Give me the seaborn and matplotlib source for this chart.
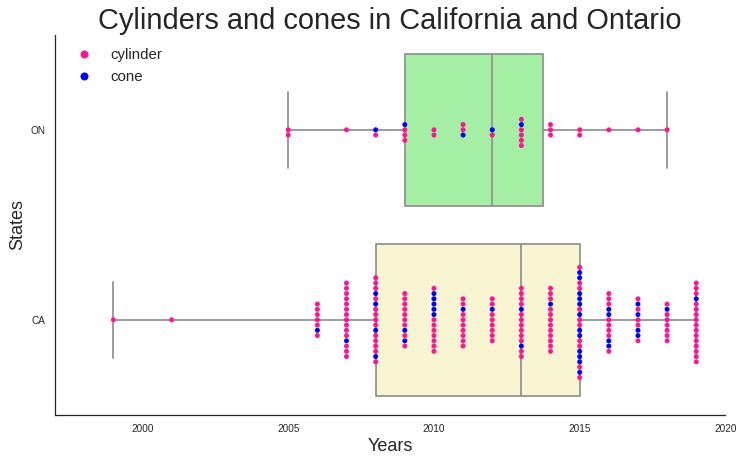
import numpy as np
import pandas as pd
import seaborn as sns
import matplotlib
matplotlib.use("Agg")
import matplotlib.pyplot as plt

# Sightings per year (California)
ca_years = [1999, 2001, 2006, 2007, 2008, 2009, 2010, 2011, 2012, 2013, 2014, 2015, 2016, 2017, 2018, 2019]
ca_cylinder = [1, 1, 6, 14, 13, 9, 8, 9, 8, 12, 12, 10, 8, 5, 7, 15]
ca_cone = [0, 0, 1, 1, 4, 2, 5, 1, 1, 2, 1, 12, 4, 4, 1, 1]

# Ontario
on_years = [2005, 2007, 2008, 2009, 2010, 2011, 2012, 2013, 2014, 2015, 2016, 2017, 2018]
on_cylinder = [2, 1, 1, 3, 2, 2, 1, 5, 3, 2, 1, 1, 1]
on_cone = [0, 0, 1, 1, 0, 1, 1, 1, 0, 0, 0, 0, 0]

# Box summaries (all shapes): min, Q1, median, Q3, max
ca_box = [1999, 2008, 2013, 2015, 2019]
on_box = [2005, 2009, 2012, 2013.75, 2018]

states = ["ON", "CA"]
shapes = ["cylinder", "cone"]
box_colors = ["palegreen", "lemonchiffon"]
shape_colors = {"cylinder": "deeppink", "cone": "blue"}


def build(state, years, cyl, cone):
    # spread the cones through each year's cylinders so colours mix in the swarm
    rows = []
    for y, c1, c2 in zip(years, cyl, cone):
        n = c1 + c2
        cone_idx = set(np.linspace(0, n - 1, c2 + 2)[1:-1].round().astype(int)) if c2 else set()
        if c2 and len(cone_idx) < c2:
            cone_idx = set(range(c2))
        for i in range(n):
            rows.append((state, y, "cone" if i in cone_idx else "cylinder"))
    return rows


swarm_df = pd.DataFrame(build("ON", on_years, on_cylinder, on_cone)
                        + build("CA", ca_years, ca_cylinder, ca_cone),
                        columns=["state", "year", "shape"])

box_df = pd.DataFrame({
    "state": ["ON"] * len(on_box) + ["CA"] * len(ca_box),
    "year": on_box + ca_box,
})

sns.set_theme(style="white")
plt.rcParams["font.family"] = ["Liberation Sans", "DejaVu Sans"]

fig, ax = plt.subplots(figsize=(744 / 72, 464 / 72), dpi=72)
fig.subplots_adjust(left=0.074, right=0.975, top=0.925, bottom=0.106)

sns.boxplot(data=box_df, x="year", y="state", order=states, hue="state",
            hue_order=states, palette=box_colors, whis=(0, 100), width=0.8,
            linewidth=1.8, linecolor="#939393", legend=False, ax=ax)
sns.swarmplot(data=swarm_df, x="year", y="state", order=states, hue="shape",
              hue_order=shapes, palette=shape_colors, size=5, ax=ax)

ax.set_xlim(1997, 2020)
ax.set_xticks([2000, 2005, 2010, 2015, 2020])
ax.tick_params(axis="both", labelsize=10)
ax.set_title("Cylinders and cones in California and Ontario", fontsize=29)
ax.set_xlabel("Years", fontsize=18)
ax.set_ylabel("States", fontsize=18)
ax.legend(loc="upper left", frameon=False, fontsize=15, markerscale=1.6)
sns.despine(ax=ax)

fig.savefig("out.png", dpi=72)
